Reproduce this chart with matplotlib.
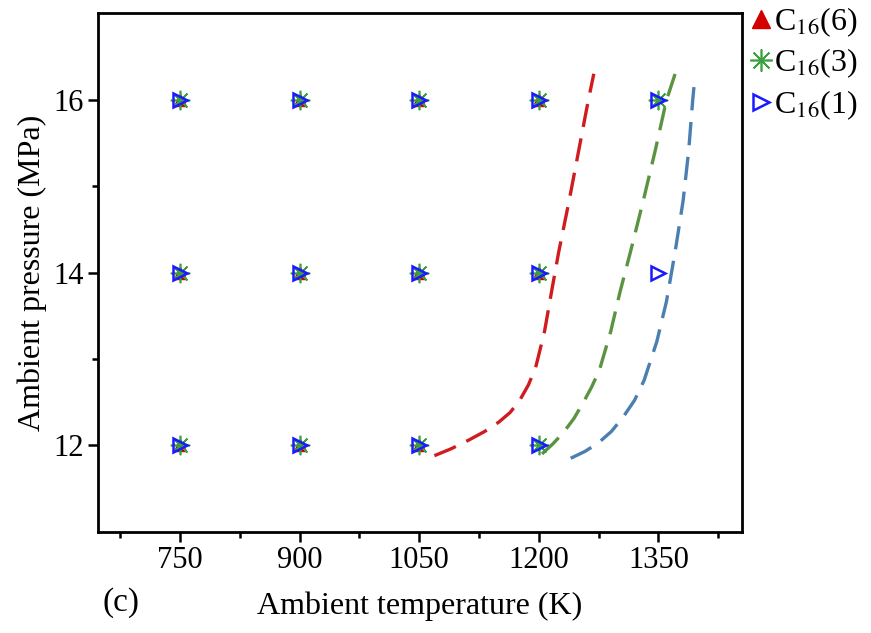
import matplotlib.pyplot as plt
import numpy as np

# measured test points (K, MPa)
c6_T = [750, 900, 1050, 1200, 750, 900, 1050, 1200, 750, 900, 1050]
c6_P = [16, 16, 16, 16, 14, 14, 14, 14, 12, 12, 12]

c3_T = [750, 900, 1050, 1200, 1350, 750, 900, 1050, 1200, 750, 900, 1050, 1200]
c3_P = [16, 16, 16, 16, 16, 14, 14, 14, 14, 12, 12, 12, 12]

c1_T = [750, 900, 1050, 1200, 1350, 750, 900, 1050, 1200, 1350, 750, 900, 1050, 1200]
c1_P = [16, 16, 16, 16, 16, 14, 14, 14, 14, 14, 12, 12, 12, 12]

# boundary curves (dashed)
red_T = [1069, 1090, 1112, 1132, 1150, 1164, 1176, 1187, 1196, 1207, 1216, 1225, 1238, 1250, 1262, 1269]
red_P = [11.88, 11.96, 12.06, 12.16, 12.27, 12.38, 12.52, 12.7, 12.9, 13.31, 13.78, 14.24, 14.83, 15.41, 15.99, 16.3]

green_T = [1204, 1218, 1231, 1244, 1256, 1266, 1276, 1290, 1302, 1315, 1331, 1346, 1360, 1371]
green_P = [11.9, 12.02, 12.15, 12.31, 12.5, 12.67, 12.87, 13.31, 13.78, 14.24, 14.83, 15.41, 15.99, 16.3]

blue_T = [1240, 1258, 1275, 1291, 1306, 1320, 1332, 1348, 1360, 1371, 1381, 1388, 1393, 1396]
blue_P = [11.85, 11.93, 12.03, 12.16, 12.33, 12.52, 12.75, 13.2, 13.66, 14.24, 14.83, 15.41, 15.99, 16.28]

plt.rcParams['font.family'] = 'Liberation Serif'
plt.rcParams['mathtext.fontset'] = 'stix'

fig = plt.figure(figsize=(8.71, 6.33), dpi=100)
ax = fig.add_axes([0.1125, 0.16, 0.7395, 0.819])

dash = (0, (7, 3.5))
ax.plot(red_T, red_P, color='#d01c1f', ls=dash, lw=2.4)
ax.plot(green_T, green_P, color='#5a9440', ls=dash, lw=2.4)
ax.plot(blue_T, blue_P, color='#4a7fb0', ls=dash, lw=2.4)

ax.plot(c6_T, c6_P, ls='none', marker='^', color='#d40000', ms=9,
        label=r'C$_{16}$(6)')
ax.plot(c3_T, c3_P, ls='none', marker=(8, 2, 0), color='#3aa040', ms=14,
        mew=1.2, label=r'C$_{16}$(3)')
ax.plot(c1_T, c1_P, ls='none', marker='>', mfc='none', mec='#1a1aff',
        ms=10, mew=1.8, label=r'C$_{16}$(1)')

ax.set_xlim(647, 1455)
ax.set_ylim(11, 17)
ax.set_xticks([750, 900, 1050, 1200, 1350])
ax.set_xticks(np.arange(675, 1450, 150), minor=True)
ax.set_yticks([12, 14, 16])
ax.set_yticks([13, 15], minor=True)
ax.tick_params(which='both', direction='out', width=1.8, labelsize=22,
               top=False, right=False)
ax.tick_params(which='major', length=7)
ax.tick_params(which='minor', length=4)
for s in ax.spines.values():
    s.set_linewidth(2)

ax.set_xlabel('Ambient temperature (K)', fontsize=23, labelpad=12)
ax.set_ylabel('Ambient pressure (MPa)', fontsize=23, labelpad=4)
fig.text(0.118, 0.035, '(c)', fontsize=24)

leg = ax.legend(loc='upper left', bbox_to_anchor=(0.995, 1.04), frameon=False,
                fontsize=23, handlelength=0.6, handletextpad=0.1,
                labelspacing=0.25, borderaxespad=0)
for h, ms in zip(leg.legend_handles, [13, 16, 12]):
    h.set_markersize(ms)

fig.savefig('out.png', dpi=100)
